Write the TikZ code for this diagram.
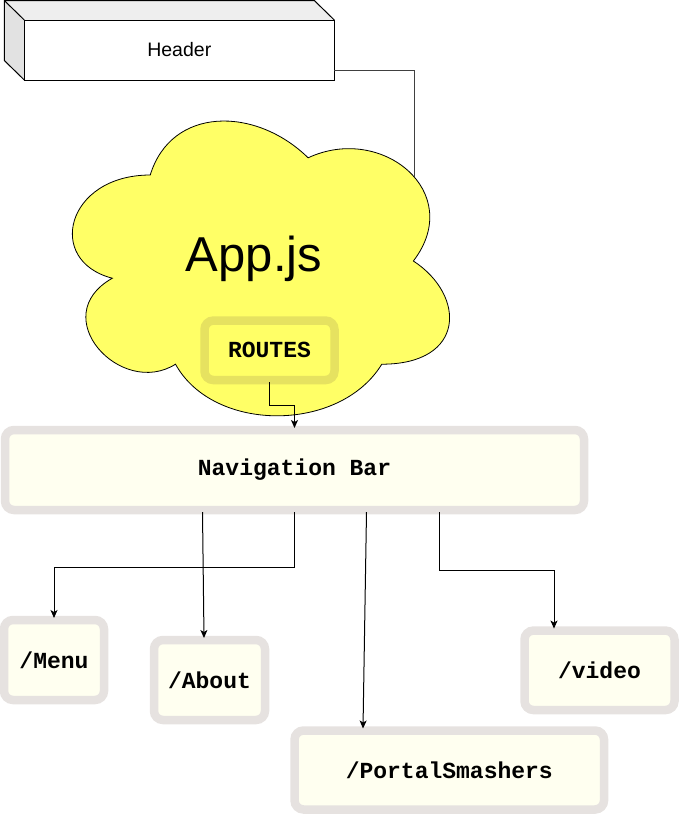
\documentclass[tikz,border=0pt]{standalone}
\usepackage{fontspec}
\setmainfont{Liberation Sans}
\setmonofont{Liberation Mono}
\usetikzlibrary{arrows.meta,calc}
\definecolor{cloudfill}{RGB}{255,255,102}
\definecolor{ivory}{RGB}{255,255,240}
\definecolor{boxrim}{RGB}{230,226,224}
\definecolor{routesrim}{RGB}{230,226,96}
\definecolor{topface}{RGB}{238,238,238}
\definecolor{leftface}{RGB}{226,226,226}
\tikzset{
  pagebox/.style={rectangle, rounded corners=9pt, draw=boxrim, line width=8.5pt,
    fill=ivory, inner sep=0pt, outer sep=2pt,
    font=\ttfamily\bfseries\fontsize{23}{27}\selectfont},
  routesbox/.style={pagebox, draw=routesrim, fill=cloudfill},
  arr/.style={-{Stealth[length=8pt,width=7pt,inset=2pt]}, line width=1pt, draw=black},
  plainline/.style={line width=1pt, draw=black!75},
  cloudshape/.style={draw=black, line width=0.8pt, fill=cloudfill},
  facestyle/.style={draw=black, line width=1pt}
}
\begin{document}
\begin{tikzpicture}[x=1pt,y=-1pt]
\useasboundingbox (0,0) rectangle (679,815);
% Header 3D box
\fill[topface] (4.3,0.5) -- (314.3,0.5) -- (334.3,20) -- (24.3,20) -- cycle;
\fill[leftface] (4.3,0.5) -- (24.3,20) -- (24.3,80) -- (4.3,60.5) -- cycle;
\draw[facestyle] (24.3,20) -- (4.3,0.5) -- (4.3,60.5) -- (24.3,80);
\draw[facestyle] (4.3,0.5) -- (314.3,0.5) -- (334.3,20);
\node[facestyle, rectangle, fill=white, minimum width=310pt, minimum height=60pt,
  inner sep=0pt, outer sep=0pt, font=\fontsize{19.5}{23}\selectfont] (header) at (179.3,50) {Header};
% Cloud
\draw[cloudshape] (150.25,175) .. controls (66.05,175) and (45,261) .. (112.36,278.2)
 .. controls (45,316.04) and (120.78,398.6) .. (175.51,364.2)
 .. controls (213.4,433) and (339.7,433) .. (381.8,364.2)
 .. controls (466,364.2) and (466,295.4) .. (413.375,261)
 .. controls (466,192.2) and (381.8,123.4) .. (308.125,157.8)
 .. controls (255.5,106.2) and (171.3,106.2) .. (150.25,175) -- cycle;
\node[font=\fontsize{49}{56}\selectfont, inner sep=0pt] (appjs) at (254,259) {App.js};
% Header connector
\coordinate (h1) at (414,70);
\coordinate (cloudedge) at (414,177);
\draw[plainline] (header.east |- h1) -- (h1) -- (cloudedge);
% Boxes
\node[routesbox, minimum width=130pt, minimum height=59.5pt] (routes) at (269.5,350.3) {ROUTES};
\node[pagebox, minimum width=579pt, minimum height=80pt] (nav) at (294.5,470) {Navigation Bar};
\node[pagebox, minimum width=100pt, minimum height=80pt] (menu) at (54,660) {/Menu};
\node[pagebox, minimum width=111pt, minimum height=80pt] (about) at (209.5,680) {/About};
\node[pagebox, minimum width=309.5pt, minimum height=79pt] (portal) at (449.3,770) {/PortalSmashers};
\node[pagebox, minimum width=150pt, minimum height=79.5pt] (video) at (599.5,670.3) {/video};
% Connectors
\coordinate (r1) at (294.5,405);
\draw[arr] (routes.south) |- (r1) -- (nav.north);
\coordinate (m1) at (54,567);
\draw[arr] (nav.south) |- (m1) -- (menu.north);
\coordinate (a0) at (202.5,512);
\draw[arr] (a0) -- (about.north -| 204,0);
\coordinate (p0) at (366.5,512);
\draw[arr] (p0) -- (portal.north -| 363,0);
\coordinate (v0) at (439,512);
\coordinate (v1) at (554,570);
\draw[arr] (v0) |- (v1) -- (video.north -| v1);
\end{tikzpicture}
\end{document}
